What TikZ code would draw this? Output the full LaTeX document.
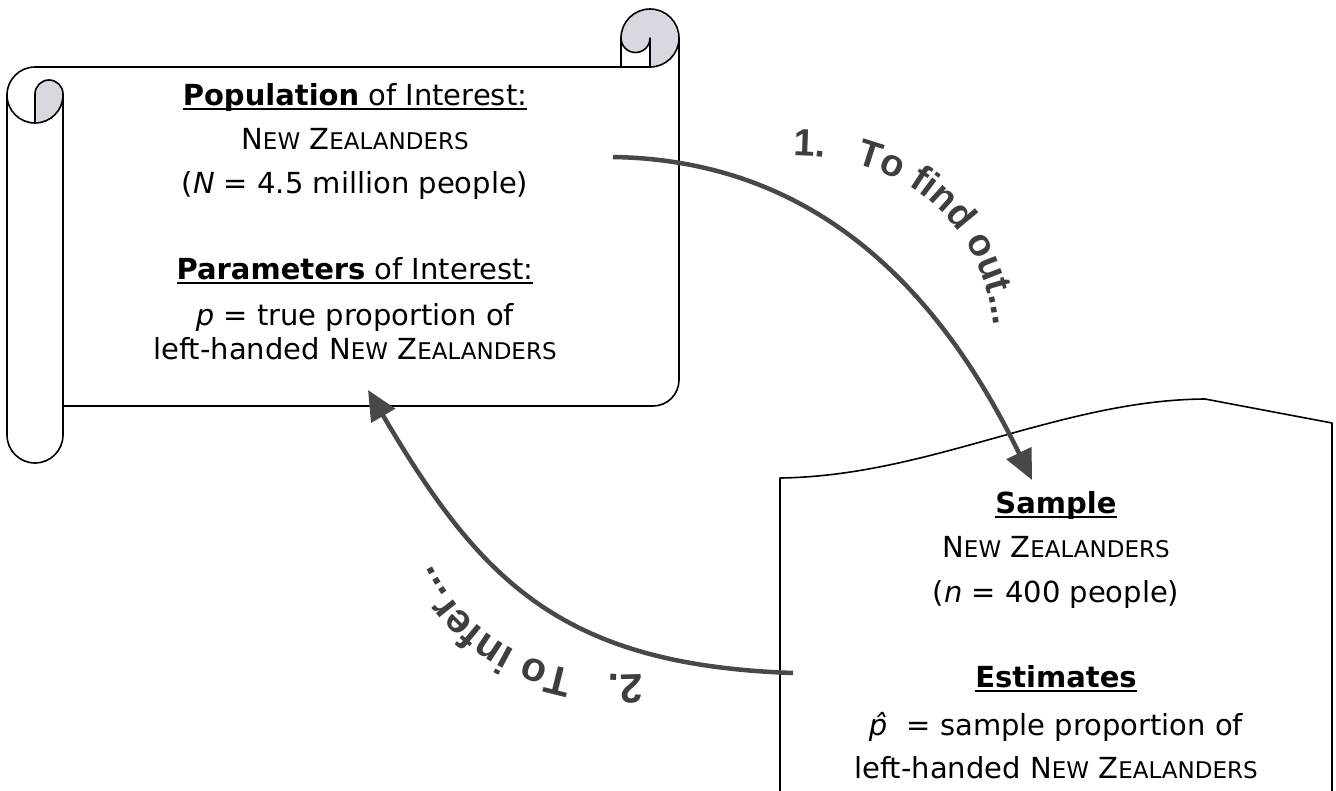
\documentclass[tikz,border=0pt]{standalone}
\usepackage{fontspec}
\setmainfont{DejaVu Sans}
\newfontfamily\labfont{Liberation Sans}
\usetikzlibrary{arrows.meta,decorations.text}
\definecolor{arrowgray}{RGB}{72,72,72}
\definecolor{curlgray}{RGB}{214,218,224}
\definecolor{labgray}{RGB}{62,62,62}
\newcommand{\smc}[1]{{\fontsize{23}{23}\selectfont #1}}
\newcommand{\nzl}{N\smc{EW} Z\smc{EALANDERS}}
\newsavebox{\ulbox}
\newcommand{\myul}[1]{\sbox{\ulbox}{#1}\rlap{\rule[-4.5pt]{\wd\ulbox}{1.8pt}}\usebox{\ulbox}}
\begin{document}
\begin{tikzpicture}[x=1pt,y=-1pt,
  txt/.style={anchor=base,inner sep=0pt,font=\fontsize{29}{35}\selectfont},
  outline/.style={line width=1.6pt,black,line join=round},
  arr/.style={line width=4.5pt,arrowgray,-{Triangle[length=30pt,width=27pt]}},
  lab/.style={decorate,decoration={text along path,text color=labgray,text align=left}}]
\useasboundingbox (0,0) rectangle (1336,790);
% ---------- scroll (population) ----------
\fill[curlgray] (35,123) -- (35,94) arc[start angle=180,end angle=360,radius=14] -- (63,95) arc[start angle=0,end angle=90,radius=28] -- cycle;
\fill[curlgray] (650,67) arc[start angle=90,end angle=-180,radius=29] arc[start angle=180,end angle=0,radius=14.5] -- cycle;
\draw[outline] (650,67) -- (35,67) arc[start angle=270,end angle=180,radius=28] -- (7,435) arc[start angle=180,end angle=0,radius=28] -- (63,94) arc[start angle=0,end angle=-180,radius=14] -- (35,123);
\draw[outline] (7,95) arc[start angle=180,end angle=0,radius=28];
\draw[outline] (63,406) -- (653,406) arc[start angle=90,end angle=0,radius=26] -- (679,38);
\draw[outline] (650,67) arc[start angle=90,end angle=-180,radius=29] -- (621,67);
\draw[outline] (650,67) -- (650,38) arc[start angle=0,end angle=180,radius=14.5];
% ---------- sample sheet ----------
\draw[outline] (780,795) -- (780,478) .. controls (930,476) and (1060,400) .. (1205,399) -- (1332,423) -- (1332,795);
% ---------- texts ----------
\node[txt] (p1) at (355,105) {\myul{\textbf{Population} of Interest:}};
\node[txt] (p2) at (355,149) {\nzl};
\node[txt] (p3) at (355,193) {(\textit{N} = 4.5 million people)};
\node[txt] (p4) at (355,279) {\myul{\textbf{Parameters} of Interest:}};
\node[txt] (p5) at (355,325) {\textit{p} = true proportion of};
\node[txt] (p6) at (355,359) {left-handed \nzl};
\node[txt] (s1) at (1056,513) {\myul{\textbf{Sample}}};
\node[txt] (s2) at (1056,557) {\nzl};
\node[txt] (s3) at (1056,602) {(\textit{n} = 400 people)};
\node[txt] (s4) at (1056,687) {\myul{\textbf{Estimates}}};
\node[txt] (s5) at (1056,735) {\textit{p̂}\ \ = sample proportion of};
\node[txt] (s6) at (1056,778) {left-handed \nzl};
% ---------- arrows ----------
\coordinate (a1s) at (613,157);
\coordinate (a1e) at (1032,480);
\coordinate (a2s) at (793,673);
\coordinate (a2e) at (368,390);
\draw[arr] (a1s) .. controls (800,160) and (930,270) .. (a1e);
\draw[arr] (a2s) .. controls (560,665) and (480,580) .. (a2e);
% ---------- arrow labels ----------
\path[lab,decoration={text={|\labfont\bfseries\fontsize{38}{38}\selectfont|1.\ \ \ To find out...}}] (793,156) .. controls (900,156) and (988,218) .. (995,340);
\path[lab,decoration={text={|\labfont\bfseries\fontsize{41}{41}\selectfont|2.\ \ \ To infer...}}] (642,674) .. controls (550,680) and (425,640) .. (408,480);
\end{tikzpicture}
\end{document}
